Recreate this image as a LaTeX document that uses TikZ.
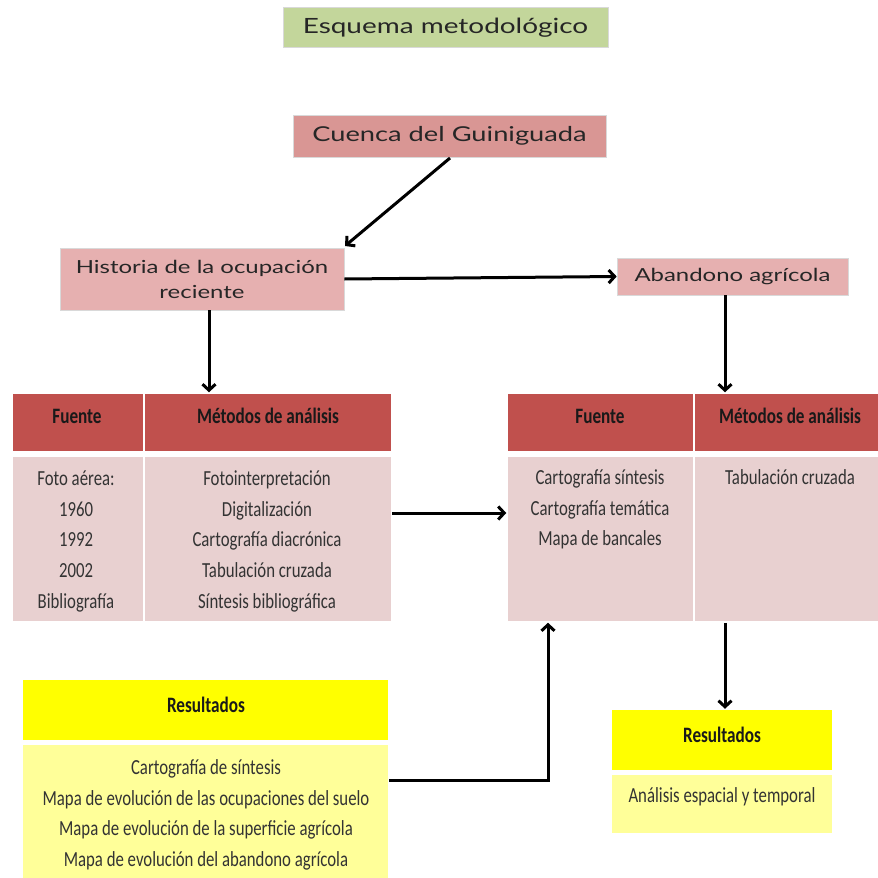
\documentclass[tikz,border=0pt]{standalone}
\usepackage{fontspec}
\setmainfont{Carlito}[FakeStretch=0.78]
\newfontfamily\boxfont{Lato}[FakeStretch=1.33]
\usetikzlibrary{arrows.meta}
\definecolor{titlegreen}{HTML}{C3D69B}
\definecolor{basinred}{HTML}{D99694}
\definecolor{stagepink}{HTML}{E6B0B0}
\definecolor{headred}{HTML}{C0504D}
\definecolor{cellpink}{HTML}{E8D0D0}
\definecolor{resyellow}{HTML}{FFFF00}
\definecolor{reslight}{HTML}{FFFF99}
% strut fixing the height of the first line of a text block
\newcommand{\firstline}{\rule{0pt}{16pt}}
\begin{document}
\begin{tikzpicture}[x=1pt,y=-1pt,
  topbox/.style={draw=black!15, line width=0.6pt, inner sep=0pt, align=center,
    font=\boxfont\fontsize{18}{25}\selectfont, text=black!85},
  cell/.style={draw=white, line width=1.5pt, inner sep=0pt},
  headtext/.style={font=\bfseries\fontsize{22}{24}\selectfont, text=black!90,
    inner sep=0pt, anchor=base},
  bodytext/.style={font=\fontsize{21.5}{30.8}\selectfont, align=center, anchor=north,
    inner sep=0pt, text=black!80},
  flow/.style={line width=3pt, -{Straight Barb[length=6pt,width=13pt,line width=3pt]}}
]
\useasboundingbox[fill=white] (0,0) rectangle (878,878);

% upper boxes
\node[topbox, fill=titlegreen, minimum width=325pt, minimum height=40pt, font=\boxfont\fontsize{21}{24}\selectfont, text depth=2pt] (title) at (445.5,27) {Esquema metodológico};
\node[topbox, fill=basinred, minimum width=313pt, minimum height=42pt, font=\boxfont\fontsize{20.5}{24}\selectfont] (basin) at (449.5,136) {Cuenca del Guiniguada};
\node[topbox, fill=stagepink, minimum width=284pt, minimum height=62pt] (hist) at (202,279) {Historia de la ocupación\\reciente};
\node[topbox, fill=stagepink, minimum width=231pt, minimum height=37pt] (aband) at (732.5,276.5) {Abandono agrícola};

% left table
\node[cell, fill=headred, minimum width=132pt, minimum height=59pt] (lh1) at (78,422.5) {};
\node[cell, fill=headred, minimum width=247pt, minimum height=59pt] (lh2) at (268,422.5) {};
\node[cell, fill=cellpink, minimum width=132pt, minimum height=166pt] (lb1) at (78,539) {};
\node[cell, fill=cellpink, minimum width=247pt, minimum height=166pt] (lb2) at (268,539) {};
\node[headtext] (lh1t) at (77,423) {Fuente};
\node[headtext] (lh2t) at (268,423) {Métodos de análisis};
\node[bodytext] (lb1t) at (76,469) {\firstline Foto aérea:\\1960\\1992\\2002\\Bibliografía};
\node[bodytext] (lb2t) at (267,469) {\firstline Fotointerpretación\\Digitalización\\Cartografía diacrónica\\Tabulación cruzada\\Síntesis bibliográfica};

% right table
\node[cell, fill=headred, minimum width=187pt, minimum height=59pt] (rh1) at (600.5,422.5) {};
\node[cell, fill=headred, minimum width=185pt, minimum height=59pt] (rh2) at (786.5,422.5) {};
\node[cell, fill=cellpink, minimum width=187pt, minimum height=166pt] (rb1) at (600.5,539) {};
\node[cell, fill=cellpink, minimum width=185pt, minimum height=166pt] (rb2) at (786.5,539) {};
\node[headtext] (rh1t) at (600,423) {Fuente};
\node[headtext] (rh2t) at (790,423) {Métodos de análisis};
\node[bodytext] (rb1t) at (600,468) {\firstline Cartografía síntesis\\Cartografía temática\\Mapa de bancales};
\node[bodytext] (rb2t) at (790,468) {\firstline Tabulación cruzada};

% results, left
\node[cell, fill=resyellow, minimum width=366pt, minimum height=61pt] (resl) at (205.5,710) {};
\node[cell, fill=reslight, minimum width=366pt, minimum height=136pt] (resbl) at (205.5,812) {};
\node[headtext] (reslt) at (206,712) {Resultados};
\node[bodytext] (resblt) at (206,758) {\firstline Cartografía de síntesis\\Mapa de evolución de las ocupaciones del suelo\\Mapa de evolución de la superficie agrícola\\Mapa de evolución del abandono agrícola};

% results, right
\node[cell, fill=resyellow, minimum width=221pt, minimum height=61pt] (resr) at (722,740) {};
\node[cell, fill=reslight, minimum width=221pt, minimum height=60pt] (resbr) at (722,804) {};
\node[headtext] (resrt) at (722,742) {Resultados};
\node[bodytext] (resbrt) at (722,786) {\firstline Análisis espacial y temporal};

% connectors
\coordinate (c1) at (450,158);
\coordinate (c2) at (345,246);
\draw[flow] (c1) -- (c2);
\draw[flow] (hist.east) -- (aband.west);
\draw[flow] (hist.south -| 209,0) -- (lh2.north -| 209,0);
\draw[flow] (aband.south -| 725,0) -- (rh2.north -| 725,0);
\draw[flow] (lb2.east |- 0,513) -- (rb1.west |- 0,513);
\coordinate (bend) at (548,780);
\draw[flow] (resbl.east |- bend) -- (bend) -- (rb1.south -| bend);
\draw[flow] (rb2.south -| 725,0) -- (resr.north -| 725,0);
\end{tikzpicture}
\end{document}
